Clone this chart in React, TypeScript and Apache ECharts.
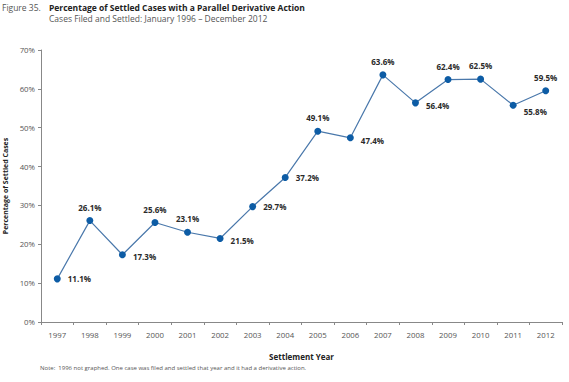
import React, { useEffect, useRef } from "react";
import * as echarts from "echarts";

const years = ["1997", "1998", "1999", "2000", "2001", "2002", "2003", "2004", "2005", "2006", "2007", "2008", "2009", "2010", "2011", "2012"];
const values = [11.1, 26.1, 17.3, 25.6, 23.1, 21.5, 29.7, 37.2, 49.1, 47.4, 63.6, 56.4, 62.4, 62.5, 55.8, 59.5];
const labelPositions = ["right", "top", "right", "top", "top", "right", "right", "right", "top", "right", "top", "right", "top", "top", "right", "top"];
const labelDown = [0, 0, 2, 0, 0, 2, 0, 0, 0, 3, 0, 3, 0, 0, 6, 0];

const FONT = "'Open Sans', 'Noto Sans', sans-serif";

export default function App() {
  const ref = useRef<HTMLDivElement>(null);
  useEffect(() => {
    if (!ref.current) return;
    const chart = echarts.init(ref.current, null, { renderer: "svg" });
    chart.setOption({
      animation: false,
      backgroundColor: "#ffffff",
      textStyle: { fontFamily: FONT },
      grid: { left: 41, right: 7, top: 50, bottom: 60, containLabel: false, outerBoundsMode: "none" },
      xAxis: {
        type: "category",
        data: years,
        boundaryGap: true,
        name: "Settlement Year",
        nameLocation: "middle",
        nameGap: 30,
        nameTextStyle: { fontFamily: FONT, fontSize: 8, fontWeight: "bold", color: "#222" },
        axisLine: { lineStyle: { color: "#888", width: 1 } },
        axisTick: { show: true, length: 3, lineStyle: { color: "#888" } },
        axisLabel: { color: "#555", fontSize: 7.8, fontFamily: FONT, margin: 9 },
        splitLine: { show: false },
      },
      yAxis: {
        type: "value",
        min: 0,
        max: 70,
        interval: 10,
        name: "Percentage of Settled Cases",
        nameLocation: "middle",
        nameRotate: 90,
        nameGap: 26,
        nameTextStyle: { fontFamily: FONT, fontSize: 7, fontWeight: "bold", color: "#222" },
        axisLine: { show: true, lineStyle: { color: "#888", width: 1 } },
        axisTick: { show: true, length: 3, lineStyle: { color: "#888" } },
        axisLabel: { color: "#555", fontSize: 7.8, fontFamily: FONT, margin: 6, formatter: "{value}%" },
        splitLine: { show: false },
      },
      series: [
        {
          type: "line",
          data: values.map((v, i) => ({
            value: v,
            label: {
              position: labelPositions[i],
              offset: labelPositions[i] === "right" ? [1, labelDown[i]] : [0, 0],
            },
          })),
          symbol: "circle",
          symbolSize: 7,
          itemStyle: { color: "#0d5ca5" },
          lineStyle: { color: "#4a78ab", width: 1.2 },
          label: {
            show: true,
            formatter: (p: any) => p.value.toFixed(1) + "%",
            fontSize: 8,
            fontWeight: "bold",
            color: "#2a2a2a",
            fontFamily: FONT,
            distance: 6,
          },
        },
      ],
      graphic: [
        {
          type: "text",
          left: 2,
          top: 3,
          style: { text: "Figure 35.", fontSize: 8.5, fontFamily: FONT, fill: "#555" },
        },
        {
          type: "text",
          left: 49,
          top: 3,
          style: { text: "Percentage of Settled Cases with a Parallel Derivative Action", fontSize: 8.5, fontWeight: "bold", fontFamily: FONT, fill: "#222" },
        },
        {
          type: "text",
          left: 49,
          top: 14,
          style: { text: "Cases Filed and Settled: January 1996 – December 2012", fontSize: 8.5, fontFamily: FONT, fill: "#555" },
        },
        {
          type: "text",
          left: 40,
          top: 365,
          style: { text: "Note:  1996 not graphed. One case was filed and settled that year and it had a derivative action.", fontSize: 6, fontFamily: FONT, fill: "#555" },
        },
      ],
    });
    return () => chart.dispose();
  }, []);
  return <div ref={ref} style={{ width: 569, height: 382, position: "absolute", left: 0, top: 0 }} />;
}
